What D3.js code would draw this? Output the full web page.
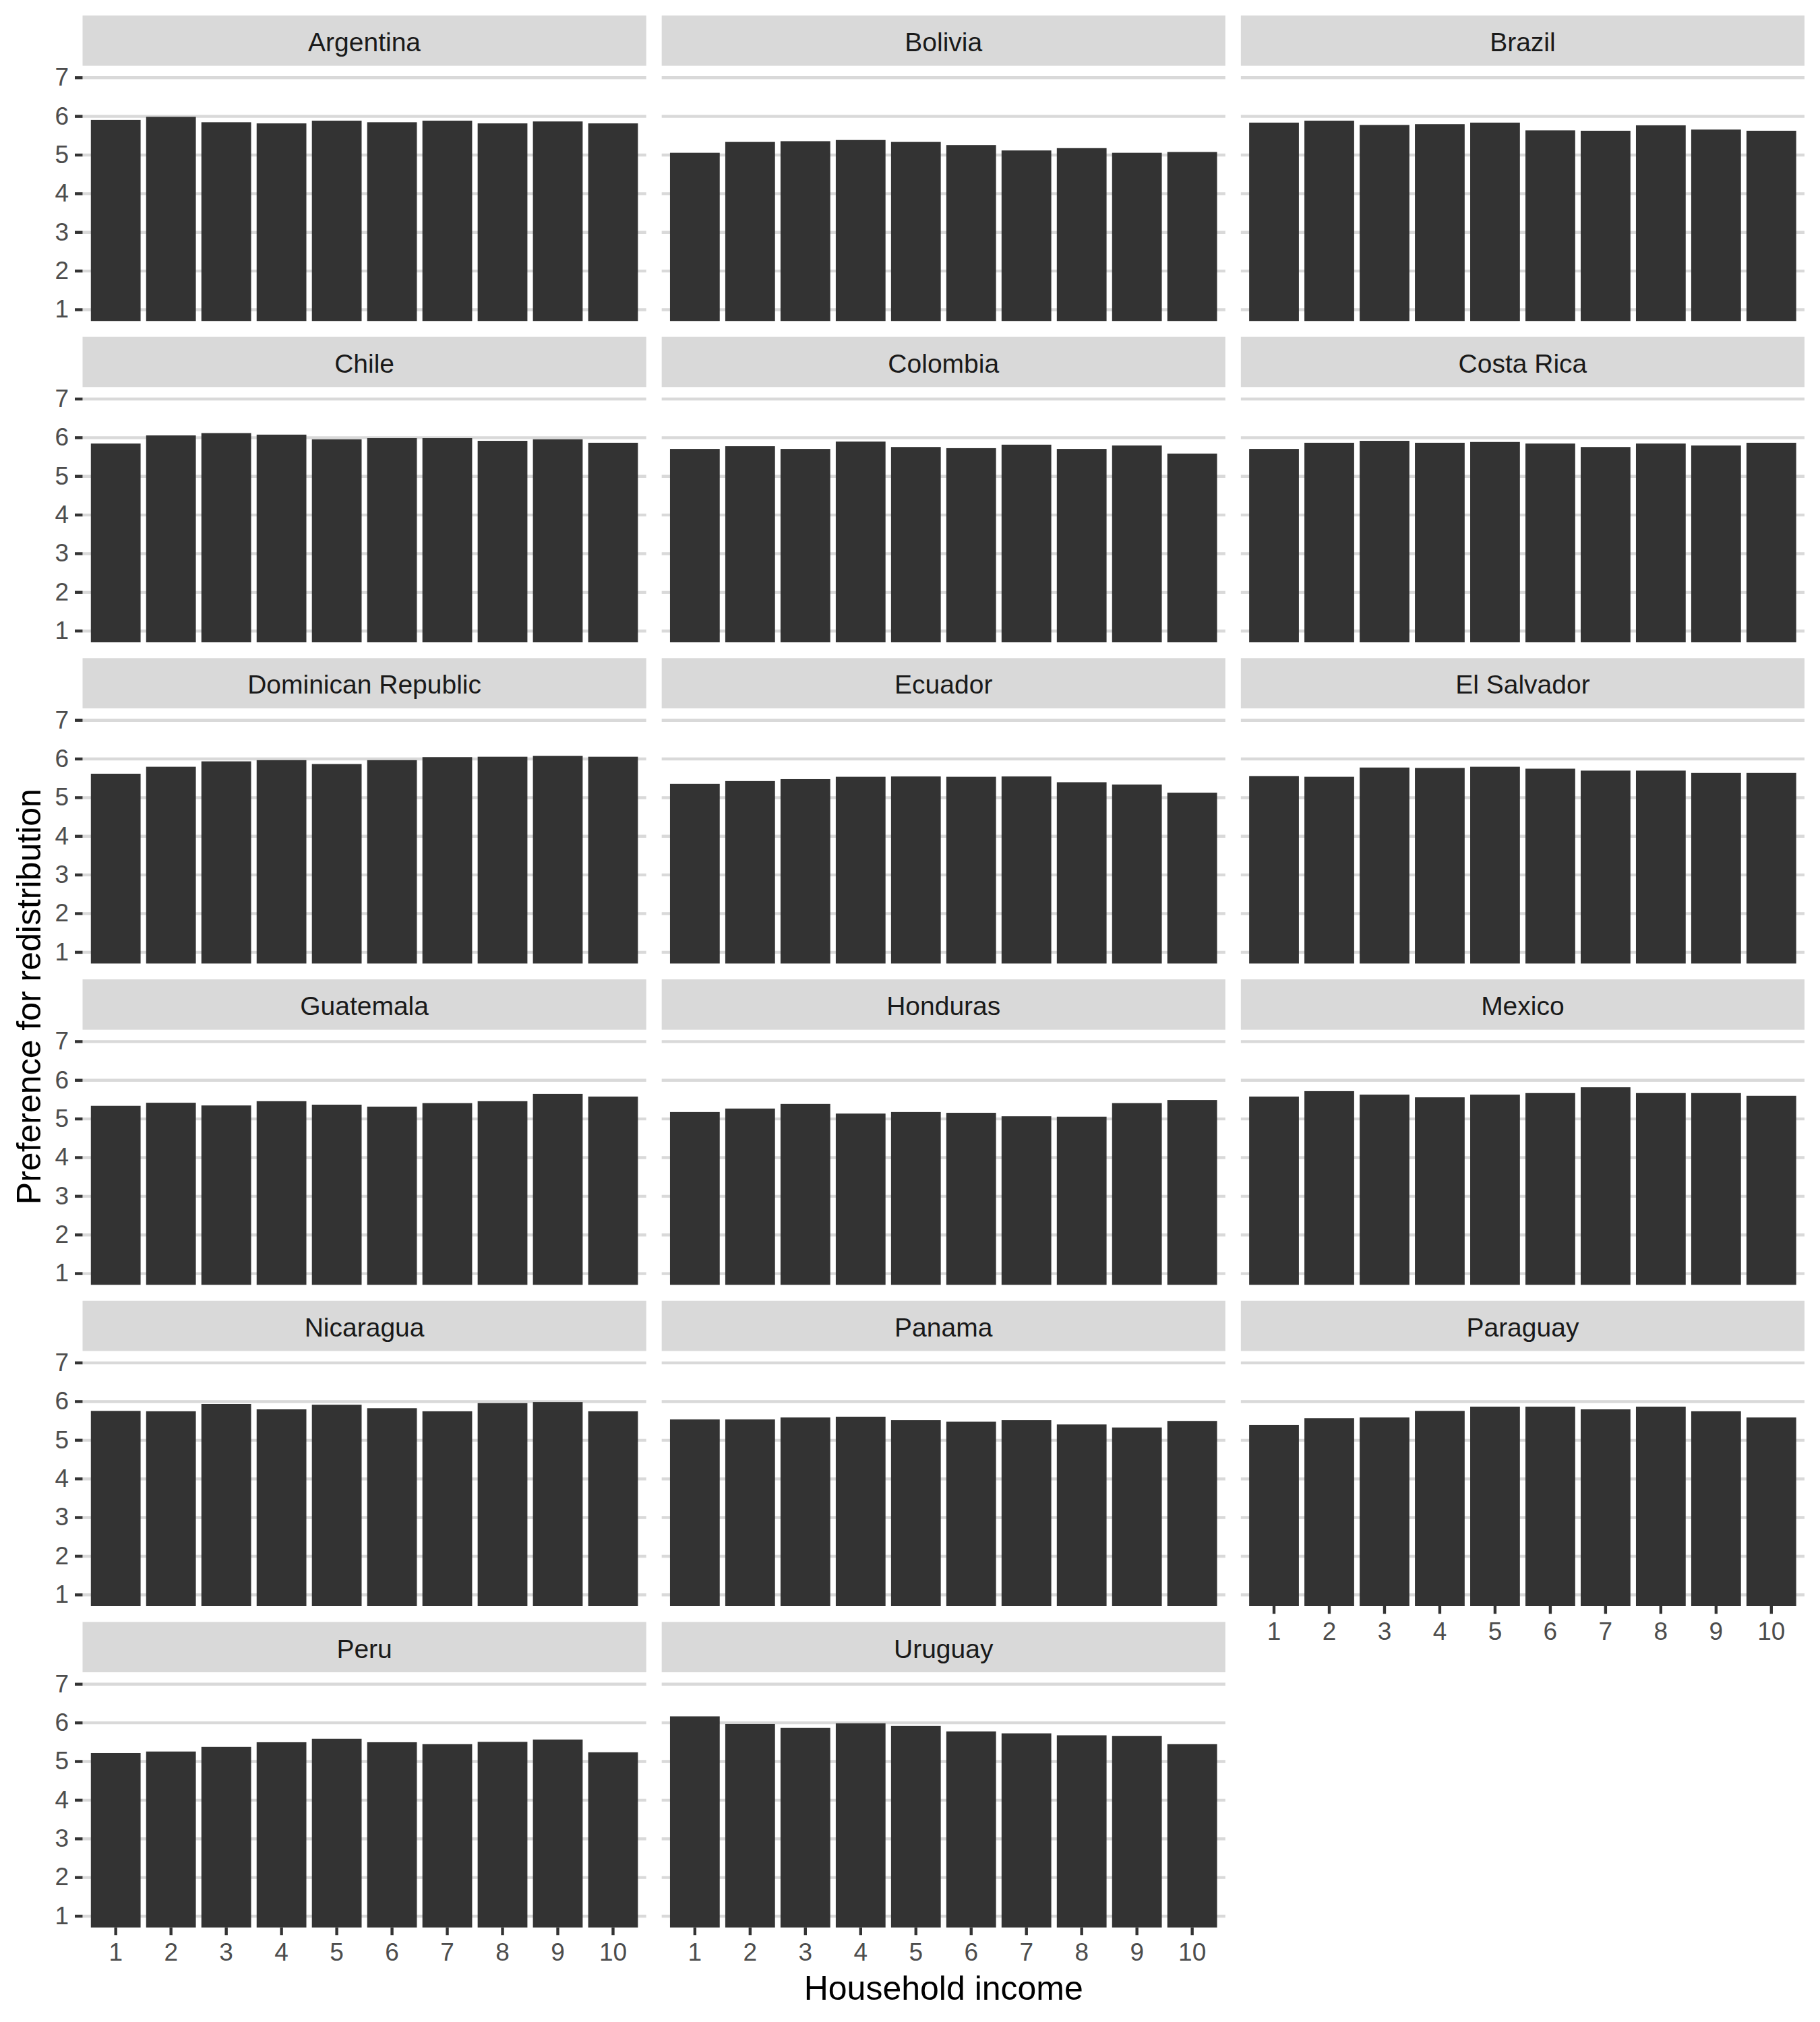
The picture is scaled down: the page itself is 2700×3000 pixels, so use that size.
<!DOCTYPE html>
<html>
<head>
<meta charset="utf-8">
<script src="https://cdn.jsdelivr.net/npm/d3@7"></script>
<style>
  html, body { margin: 0; padding: 0; background: #ffffff; }
  svg { display: block; }
  text { font-family: "Liberation Sans", Arial, sans-serif; }
</style>
</head>
<body>
<svg id="chart" width="2700" height="3000"></svg>
<script>
// ---------------- data ----------------
const incomeLevels = ["1", "2", "3", "4", "5", "6", "7", "8", "9", "10"];
const yTickValues = [1, 2, 3, 4, 5, 6, 7];
const countries = [
  "Argentina", "Bolivia", "Brazil",
  "Chile", "Colombia", "Costa Rica",
  "Dominican Republic", "Ecuador", "El Salvador",
  "Guatemala", "Honduras", "Mexico",
  "Nicaragua", "Panama", "Paraguay",
  "Peru", "Uruguay"
];
const argentina  = [5.90, 5.98, 5.84, 5.81, 5.88, 5.84, 5.88, 5.81, 5.86, 5.81];
const bolivia    = [5.05, 5.33, 5.35, 5.38, 5.33, 5.25, 5.11, 5.17, 5.05, 5.07];
const brazil     = [5.83, 5.88, 5.77, 5.79, 5.83, 5.63, 5.62, 5.76, 5.65, 5.62];
const chile      = [5.84, 6.05, 6.11, 6.07, 5.95, 5.98, 5.98, 5.91, 5.95, 5.86];
const colombia   = [5.70, 5.77, 5.70, 5.89, 5.75, 5.72, 5.81, 5.70, 5.79, 5.58];
const costaRica  = [5.70, 5.86, 5.91, 5.86, 5.88, 5.84, 5.75, 5.84, 5.79, 5.86];
const dominicanRepublic = [5.61, 5.79, 5.93, 5.96, 5.86, 5.96, 6.04, 6.05, 6.07, 6.05];
const ecuador    = [5.35, 5.42, 5.47, 5.53, 5.54, 5.53, 5.54, 5.39, 5.33, 5.12];
const elSalvador = [5.55, 5.53, 5.77, 5.76, 5.79, 5.74, 5.69, 5.69, 5.63, 5.63];
const guatemala  = [5.33, 5.41, 5.34, 5.45, 5.36, 5.31, 5.40, 5.45, 5.64, 5.57];
const honduras   = [5.17, 5.26, 5.38, 5.13, 5.17, 5.15, 5.06, 5.05, 5.40, 5.48];
const mexico     = [5.57, 5.71, 5.62, 5.55, 5.62, 5.66, 5.81, 5.66, 5.66, 5.59];
const nicaragua  = [5.75, 5.74, 5.93, 5.79, 5.91, 5.82, 5.74, 5.95, 5.98, 5.74];
const panama     = [5.53, 5.53, 5.58, 5.60, 5.51, 5.47, 5.51, 5.40, 5.32, 5.49];
const paraguay   = [5.39, 5.56, 5.58, 5.75, 5.86, 5.86, 5.79, 5.86, 5.74, 5.58];
const peru       = [5.21, 5.25, 5.37, 5.49, 5.58, 5.49, 5.44, 5.50, 5.56, 5.23];
const uruguay    = [6.16, 5.96, 5.86, 5.98, 5.91, 5.77, 5.72, 5.67, 5.65, 5.44];
const seriesByCountry = [
  argentina, bolivia, brazil, chile, colombia, costaRica,
  dominicanRepublic, ecuador, elSalvador, guatemala, honduras, mexico,
  nicaragua, panama, paraguay, peru, uruguay
];
const xTitle = "Household income";
const yTitle = "Preference for redistribution";

// ---------------- layout ----------------
const svg = d3.select("#chart");
const nCols = 3, nRows = 6;
const gridLeft = 122.5, gridRight = 2677, gridTop = 23;
const hGap = 23;
const panelW = (gridRight - gridLeft - hGap * (nCols - 1)) / nCols;
const stripH = 74.6;
const panelH = 378.6;
const rowPitch = 476.7;
const tickLen = 11.5;
const lineW = 4.4;
const gridColor = "#D9D9D9";

const x = d3.scaleBand()
  .domain(incomeLevels)
  .range([0, panelW])
  .paddingInner(0.1)
  .paddingOuter(0.15);

const y = d3.scaleLinear()
  .domain([0.7, 7.3])
  .range([panelH, 0]);

const defs = svg.append("defs");
defs.append("clipPath").attr("id", "panelClip")
  .append("rect").attr("x", 0).attr("y", 0).attr("width", panelW).attr("height", panelH);

const lastRowIndex = (c) => {
  // index of last panel in each column
  let last = -1;
  for (let i = 0; i < countries.length; i++) if (i % nCols === c) last = i;
  return last;
};

countries.forEach((country, i) => {
  const col = i % nCols, row = Math.floor(i / nCols);
  const px = gridLeft + col * (panelW + hGap);
  const py = gridTop + row * rowPitch;
  const g = svg.append("g").attr("transform", `translate(${px},${py})`);

  // strip
  g.append("rect")
    .attr("x", 0).attr("y", 0)
    .attr("width", panelW).attr("height", stripH)
    .attr("fill", "#D9D9D9");
  g.append("text")
    .attr("x", panelW / 2).attr("y", 53)
    .attr("text-anchor", "middle")
    .attr("font-size", 39)
    .attr("fill", "#1A1A1A")
    .text(country);

  const p = g.append("g").attr("transform", `translate(0,${stripH})`);

  // horizontal grid lines
  const grid = p.append("g")
    .call(d3.axisLeft(y).tickValues(yTickValues).tickSize(-panelW).tickFormat(""));
  grid.select(".domain").remove();
  grid.selectAll(".tick line").attr("stroke", gridColor).attr("stroke-width", lineW);

  // bars
  const vals = seriesByCountry[i];
  p.append("g").attr("clip-path", "url(#panelClip)")
    .selectAll("rect")
    .data(incomeLevels.map((lvl, k) => ({ lvl, v: vals[k] })))
    .join("rect")
    .attr("x", d => x(d.lvl))
    .attr("width", x.bandwidth())
    .attr("y", d => y(d.v))
    .attr("height", d => y(0) - y(d.v))
    .attr("fill", "#333333");

  // left axis on first column
  if (col === 0) {
    const ax = p.append("g")
      .call(d3.axisLeft(y).tickValues(yTickValues).tickSize(tickLen).tickPadding(9).tickFormat(d3.format("d")));
    ax.select(".domain").remove();
    ax.selectAll(".tick line").attr("stroke", "#333333").attr("stroke-width", lineW);
    ax.selectAll(".tick text")
      .attr("font-size", 37).attr("fill", "#4D4D4D")
      .attr("font-family", "'Liberation Sans', Arial, sans-serif");
  }

  // bottom axis on last panel of each column
  if (i === lastRowIndex(col)) {
    const bx = p.append("g").attr("transform", `translate(0,${panelH})`)
      .call(d3.axisBottom(x).tickSize(tickLen).tickPadding(12));
    bx.select(".domain").remove();
    bx.selectAll(".tick line").attr("stroke", "#333333").attr("stroke-width", lineW);
    bx.selectAll(".tick text")
      .attr("font-size", 37).attr("fill", "#4D4D4D")
      .attr("font-family", "'Liberation Sans', Arial, sans-serif");
  }
});

// axis titles
const lastPanelBottom = gridTop + (nRows - 1) * rowPitch + stripH + panelH;
svg.append("text")
  .attr("x", (gridLeft + gridRight) / 2)
  .attr("y", 2967)
  .attr("text-anchor", "middle")
  .attr("font-size", 50)
  .attr("fill", "#000000")
  .text(xTitle);

const yCenter = (gridTop + stripH + lastPanelBottom) / 2;
svg.append("text")
  .attr("transform", `translate(60,${yCenter}) rotate(-90)`)
  .attr("text-anchor", "middle")
  .attr("font-size", 50)
  .attr("fill", "#000000")
  .text(yTitle);
</script>
</body>
</html>
